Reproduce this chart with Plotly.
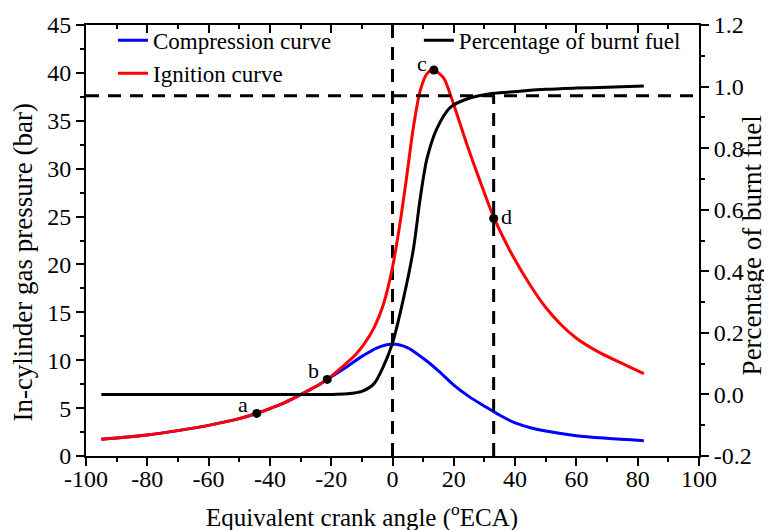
import plotly.graph_objects as go

# ---------------- data ----------------
crank_compression = [-95, -80, -70, -60, -50, -44.3, -40, -35, -30, -25, -21.3, -15, -10, -5, 0, 5, 10, 15, 20, 25, 30, 35, 40, 45, 50, 60, 70, 82]
p_compression = [1.75, 2.2, 2.65, 3.2, 3.9, 4.45, 4.95, 5.6, 6.4, 7.25, 8.0, 9.3, 10.4, 11.3, 11.7, 11.3, 10.2, 8.9, 7.4, 6.2, 5.2, 4.25, 3.45, 2.95, 2.6, 2.12, 1.85, 1.6]

crank_ignition = [-95, -80, -70, -60, -50, -44.3, -40, -35, -30, -25, -21.3, -15, -12, -9, -6, -3, 0, 2.4, 4.6, 6.8, 9, 11.2, 13.3, 16.6, 18.8, 24.2, 28.5, 33.2, 39.4, 45, 50, 55, 60, 67, 74, 82]
p_ignition = [1.75, 2.2, 2.65, 3.2, 3.9, 4.45, 4.95, 5.6, 6.4, 7.25, 8.0, 9.7, 10.6, 11.8, 13.4, 15.8, 19.7, 24.2, 29.1, 34.3, 38.1, 39.9, 40.3, 39.5, 37.8, 32.6, 28.75, 24.8, 20.8, 17.8, 15.5, 13.7, 12.3, 10.9, 9.8, 8.6]

crank_burnt = [-95, -40, -20, -15, -10, -6, -3, 0, 3.5, 6.8, 9, 11.2, 14.4, 18.8, 25, 33, 41.6, 50, 60, 70, 82]
burnt_fraction = [0, 0, 0, 0.002, 0.01, 0.035, 0.09, 0.167, 0.308, 0.471, 0.634, 0.764, 0.862, 0.932, 0.962, 0.978, 0.985, 0.991, 0.995, 0.998, 1.002]

point_labels = ["a", "b", "c", "d"]
point_crank = [-44.3, -21.3, 13.5, 33.0]
point_pressure = [4.45, 8.0, 40.3, 24.8]

ref_crank = [0, 33]          # vertical dashed lines
ref_burnt = 0.97             # horizontal dashed line (right axis)

x_ticks = [-100, -80, -60, -40, -20, 0, 20, 40, 60, 80, 100]
x_ticktext = ["-100", "-80", "-60", "-40", "-20", "0", "20", "40", "60", "80", "100"]
y_ticks = [0, 5, 10, 15, 20, 25, 30, 35, 40, 45]
y2_ticks = [-0.2, 0.0, 0.2, 0.4, 0.6, 0.8, 1.0, 1.2]
y2_ticktext = ["-0.2", "0.0", "0.2", "0.4", "0.6", "0.8", "1.0", "1.2"]

FONT = "Liberation Serif"
DASH = "13px,9px"

fig = go.Figure()

# dashed reference lines
fig.add_trace(go.Scatter(x=[ref_crank[0], ref_crank[0]], y=[0, 45], mode="lines",
                         line=dict(color="black", width=3, dash=DASH),
                         showlegend=False, hoverinfo="skip"))
fig.add_trace(go.Scatter(x=[ref_crank[1], ref_crank[1]], y=[-0.2, ref_burnt], yaxis="y2", mode="lines",
                         line=dict(color="black", width=3, dash=DASH),
                         showlegend=False, hoverinfo="skip"))
fig.add_trace(go.Scatter(x=[x_ticks[0], x_ticks[-1]], y=[ref_burnt, ref_burnt], yaxis="y2", mode="lines",
                         line=dict(color="black", width=3, dash=DASH),
                         showlegend=False, hoverinfo="skip"))

fig.add_trace(go.Scatter(x=crank_compression, y=p_compression, mode="lines",
                         name="Compression curve", line=dict(color="#0000ff", width=3, shape="spline", smoothing=0.8),
                         legend="legend"))
fig.add_trace(go.Scatter(x=crank_ignition, y=p_ignition, mode="lines",
                         name="Ignition curve", line=dict(color="#ff0000", width=3, shape="spline", smoothing=0.8),
                         legend="legend"))
fig.add_trace(go.Scatter(x=crank_burnt, y=burnt_fraction, yaxis="y2", mode="lines",
                         name="Percentage of burnt fuel", line=dict(color="black", width=3, shape="spline", smoothing=0.8),
                         legend="legend2"))
fig.add_trace(go.Scatter(x=point_crank, y=point_pressure, mode="markers",
                         marker=dict(color="black", size=9),
                         showlegend=False, hoverinfo="skip"))
# top axis carrier (invisible)
fig.add_trace(go.Scatter(x=[x_ticks[0]], y=[0], xaxis="x2", mode="markers",
                         marker=dict(opacity=0), showlegend=False, hoverinfo="skip"))

axis_common = dict(showline=True, linecolor="black", linewidth=2, showgrid=False, automargin=False,
                   zeroline=False, tickcolor="black", tickwidth=2,
                   tickfont=dict(family=FONT, size=24, color="black"))
minor_out = dict(ticklen=4, ticks="outside", tickcolor="black", tickwidth=1.5)

label_shift = [(-14, 9), (-14, 9), (-12, 7), (13, 2)]
annotations = []
for lab, xc, yp, (dx, dy) in zip(point_labels, point_crank, point_pressure, label_shift):
    annotations.append(dict(text=lab, x=xc, y=yp, xref="x", yref="y", showarrow=False,
                            xanchor="center", yanchor="middle", xshift=dx, yshift=dy,
                            font=dict(family=FONT, size=22, color="black")))
annotations += [
    dict(text="Equivalent crank angle (<sup>o</sup>ECA)", xref="paper", yref="paper",
         x=0.45, y=-0.139, xanchor="center", yanchor="middle", showarrow=False,
         font=dict(family=FONT, size=25, color="black")),
    dict(text="In-cylinder gas pressure (bar)", xref="paper", yref="paper", textangle=-90,
         x=-0.1028, y=0.451, xanchor="center", yanchor="middle", showarrow=False,
         font=dict(family=FONT, size=27, color="black")),
    dict(text="Percentage of burnt fuel", xref="paper", yref="paper", textangle=-90,
         x=1.086, y=0.488, xanchor="center", yanchor="middle", showarrow=False,
         font=dict(family=FONT, size=27, color="black")),
]

# the page body adds an 8px offset, so the figure is sized to the visible window
fig.update_layout(
    width=764, height=522,
    margin=dict(l=78, r=73, t=16, b=74),
    paper_bgcolor="white", plot_bgcolor="white",
    font=dict(family=FONT, color="black"),
    xaxis=dict(range=[-100, 100], tickvals=x_ticks, ticktext=x_ticktext, ticks="outside", ticklen=8,
               ticklabelstandoff=-8,
               minor=dict(dtick=10, **minor_out), **axis_common),
    xaxis2=dict(range=[-100, 100], overlaying="x", side="top", tickvals=x_ticks, ticks="inside",
                ticklen=8, showticklabels=False,
                minor=dict(dtick=10, ticklen=4, ticks="inside", tickcolor="black", tickwidth=1.5),
                **axis_common),
    yaxis=dict(range=[0, 45], tickvals=y_ticks, ticks="outside", ticklen=8,
               minor=dict(dtick=2.5, **minor_out), **axis_common),
    yaxis2=dict(range=[-0.2, 1.2], overlaying="y", side="right", tickvals=y2_ticks, ticktext=y2_ticktext,
                ticks="outside", ticklen=8,
                minor=dict(dtick=0.1, **minor_out), **axis_common),
    legend=dict(x=0.044, y=1.012, xanchor="left", yanchor="top", bgcolor="rgba(0,0,0,0)",
                font=dict(family=FONT, size=23, color="black"), tracegroupgap=0),
    legend2=dict(x=0.543, y=1.012, xanchor="left", yanchor="top", bgcolor="rgba(0,0,0,0)",
                 font=dict(family=FONT, size=23, color="black")),
    annotations=annotations,
)

fig.write_html("out.html")
